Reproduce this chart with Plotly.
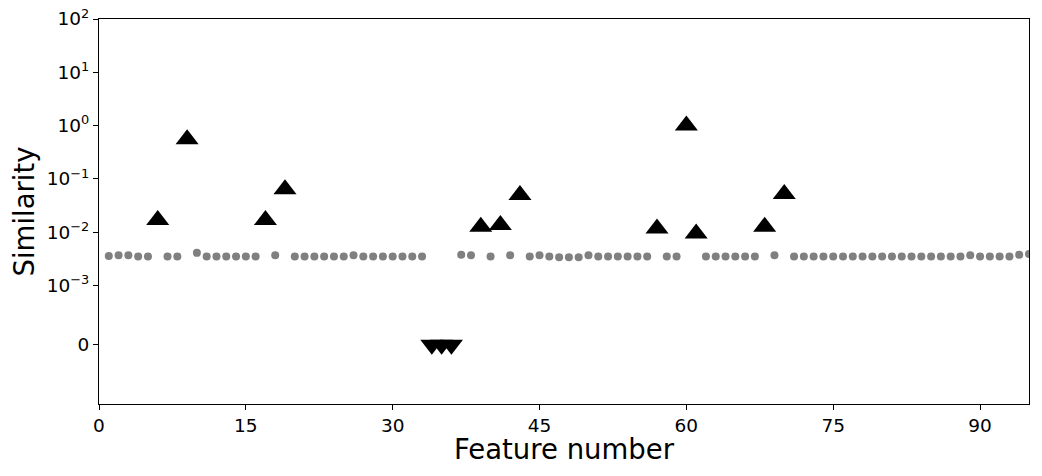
import numpy as np
import plotly.graph_objects as go

# symlog scale like matplotlib: linthresh 1e-3, linscale 1 (base 10)
LINTHRESH = 1e-3
LINSCALE = 1 / (1 - 1 / 10)

# grey dots: features with ordinary similarity
circle_x = [1, 2, 3, 4, 5, 7, 8, 10, 11, 12, 13, 14, 15, 16, 18,
            20, 21, 22, 23, 24, 25, 26, 27, 28, 29, 30, 31, 32, 33,
            37, 38, 40, 42, 44, 45, 46, 47, 48, 49, 50, 51, 52, 53, 54, 55, 56,
            58, 59, 62, 63, 64, 65, 66, 67, 69,
            71, 72, 73, 74, 75, 76, 77, 78, 79, 80, 81, 82, 83, 84, 85, 86, 87, 88,
            89, 90, 91, 92, 93, 94, 95]
circle_y = [0.0036, 0.0037, 0.0037, 0.0035, 0.0035, 0.0035, 0.0035, 0.0041,
            0.0035, 0.0035, 0.0035, 0.0035, 0.0035, 0.0035, 0.0037,
            0.0035, 0.0035, 0.0035, 0.0035, 0.0035, 0.0035, 0.0037, 0.0035,
            0.0035, 0.0035, 0.0035, 0.0035, 0.0035, 0.0035,
            0.0038, 0.0037, 0.0035, 0.0037, 0.0035, 0.0037, 0.0035, 0.0034,
            0.0034, 0.0034, 0.0037, 0.0035, 0.0035, 0.0035, 0.0035, 0.0035, 0.0035,
            0.0035, 0.0035, 0.0035, 0.0035, 0.0035, 0.0035, 0.0035, 0.0035, 0.0037,
            0.0035, 0.0035, 0.0035, 0.0035, 0.0035, 0.0035, 0.0035, 0.0035, 0.0035,
            0.0035, 0.0035, 0.0035, 0.0035, 0.0035, 0.0035, 0.0035, 0.0035, 0.0035,
            0.0037, 0.0035, 0.0035, 0.0035, 0.0035, 0.0038, 0.0039]

# black up triangles: high similarity
up_x = [6, 9, 17, 19, 39, 41, 43, 57, 60, 61, 68, 70]
up_y = [0.0169, 0.553, 0.0169, 0.0638, 0.0127, 0.0136, 0.0499, 0.0118,
        1.0, 0.0095, 0.0127, 0.052]

# black down triangles: zero similarity
down_x = [34, 35, 36]
down_y = [0.0, 0.0, 0.0]

y_tick_vals = [0, 1e-3, 1e-2, 1e-1, 1, 10, 100]
y_tick_text = ["0", "10<sup>−3</sup>", "10<sup>−2</sup>", "10<sup>−1</sup>",
               "10<sup>0</sup>", "10<sup>1</sup>", "10<sup>2</sup>"]
x_tick_vals = [0, 15, 30, 45, 60, 75, 90]
y_limits = [-1e-3, 100]
x_limits = [0, 95]


def symlog(v):
    v = np.asarray(v, dtype=float)
    a = np.abs(v)
    log_part = np.sign(v) * (LINSCALE + np.log10(np.maximum(a, LINTHRESH) / LINTHRESH))
    return np.where(a <= LINTHRESH, LINSCALE * v / LINTHRESH, log_part)


fig = go.Figure()
fig.add_trace(go.Scatter(
    x=circle_x, y=symlog(circle_y), mode="markers",
    marker=dict(symbol="circle", size=8, color="#808080", line=dict(width=0)),
))
fig.add_trace(go.Scatter(
    x=up_x, y=symlog(up_y), mode="markers",
    marker=dict(symbol="triangle-up", size=20, color="black", line=dict(width=0)),
))
fig.add_trace(go.Scatter(
    x=down_x, y=symlog(down_y), mode="markers",
    marker=dict(symbol="triangle-down", size=20, color="black", line=dict(width=0)),
))

axis_style = dict(
    showgrid=False, zeroline=False, automargin=False,
    showline=True, linecolor="black", linewidth=1.1, mirror=True,
    ticks="outside", ticklen=5, tickwidth=1.1, tickcolor="black",
    tickfont=dict(family="DejaVu Sans", size=18.5, color="black"),
    ticklabeloverflow="allow",
)
fig.update_xaxes(range=x_limits, tickvals=x_tick_vals, **axis_style)
fig.update_yaxes(range=list(symlog(y_limits)), tickvals=list(symlog(y_tick_vals)),
                 ticktext=y_tick_text, **axis_style)

# axis titles placed by hand so they sit close to the tick labels
title_font = dict(family="DejaVu Sans", size=27.5, color="black")
fig.add_annotation(text="Feature number", xref="paper", yref="paper", x=0.5, y=0,
                   xanchor="center", yanchor="middle", yshift=-45,
                   showarrow=False, font=title_font)
fig.add_annotation(text="Similarity", xref="paper", yref="paper", x=0, y=0.5,
                   xanchor="center", yanchor="middle", xshift=-76,
                   textangle=-90, showarrow=False, font=title_font)

# the page body has an 8px margin, so the figure is 8px smaller each way
fig.update_layout(
    width=1034, height=468,
    margin=dict(l=91, r=13, t=11, b=72),
    plot_bgcolor="white", paper_bgcolor="white",
    showlegend=False,
    font=dict(family="DejaVu Sans", color="black"),
)

fig.write_html("out.html")
